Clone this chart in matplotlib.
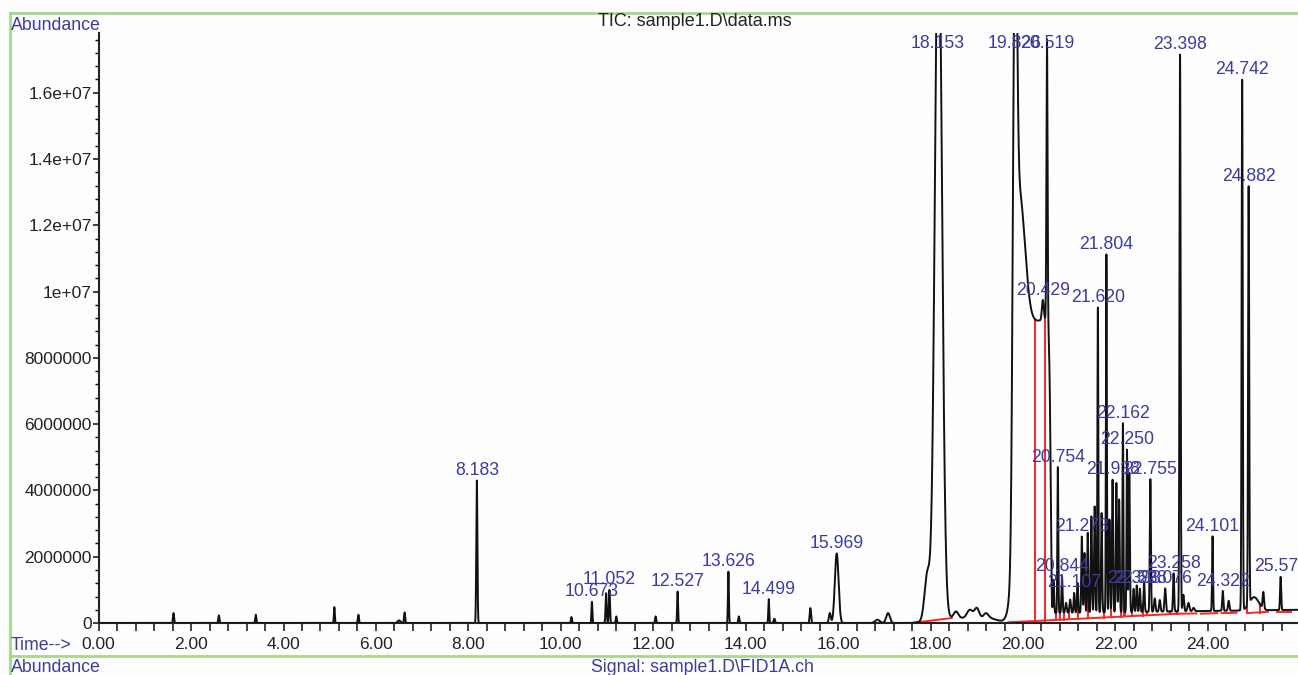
import numpy as np
import matplotlib
matplotlib.use("Agg")
import matplotlib.pyplot as plt
from matplotlib.lines import Line2D

plt.rcParams['font.family'] = ['Liberation Sans', 'DejaVu Sans']

# peaks: retention time (min), height above baseline, sigma (min)
peak_times = [1.62, 2.60, 3.40, 5.10, 5.62, 6.50, 6.62, 8.183,
              10.23, 10.673, 10.98, 11.052, 11.20, 12.05, 12.527, 13.626, 13.85,
              14.499, 14.62, 15.40, 15.82, 15.969, 16.85, 17.08,
              17.93, 18.17, 18.55, 18.85, 19.00, 19.20,
              19.82, 19.92, 20.429, 20.519,
              20.66, 20.754, 20.844, 20.93, 21.02, 21.107, 21.18, 21.273, 21.33, 21.40,
              21.48, 21.55, 21.620, 21.70, 21.804, 21.87, 21.938, 22.02, 22.08, 22.162,
              22.250, 22.30, 22.393, 22.46, 22.528, 22.62, 22.755, 22.85, 22.96, 23.076,
              23.258, 23.398, 23.47, 23.58, 23.69, 24.101, 24.322, 24.45, 24.742, 24.882,
              25.00, 25.20, 25.574]
peak_heights = [3.0e5, 2.3e5, 2.5e5, 4.8e5, 2.5e5, 8e4, 3.2e5, 4.3e6,
                1.8e5, 6.4e5, 9.0e5, 1.0e6, 2.0e5, 2.0e5, 9.5e5, 1.55e6, 2.0e5,
                7.2e5, 1.3e5, 4.5e5, 3.0e5, 2.1e6, 1.0e5, 3.0e5,
                1.4e6, 2.2e7, 2.0e5, 2.5e5, 3.0e5, 1.5e5,
                1.7e7, 4.0e6, 6.0e5, 8.5e6,
                1.0e6, 4.4e6, 1.1e6, 3.0e5, 4.0e5, 6.0e5, 9.0e5, 2.3e6, 1.8e6, 2.4e6,
                2.9e6, 3.2e6, 9.2e6, 3.0e6, 1.08e7, 2.8e6, 4.0e6, 3.9e6, 3.4e6, 5.7e6,
                4.9e6, 4.2e6, 7.0e5, 8.0e5, 7.0e5, 9.0e5, 4.0e6, 4.0e5, 3.5e5, 7.0e5,
                1.15e6, 1.68e7, 5.0e5, 2.5e5, 1.0e5, 2.25e6, 6.0e5, 3.0e5, 1.6e7, 1.26e7,
                4.0e5, 5.0e5, 1.0e6]
peak_widths = [0.012, 0.012, 0.012, 0.010, 0.012, 0.030, 0.012, 0.012,
               0.012, 0.010, 0.012, 0.012, 0.012, 0.012, 0.010, 0.010, 0.012,
               0.010, 0.015, 0.015, 0.020, 0.040, 0.050, 0.040,
               0.060, 0.075, 0.050, 0.060, 0.050, 0.050,
               0.040, 0.120, 0.020, 0.012,
               0.012, 0.010, 0.012, 0.015, 0.015, 0.012, 0.012, 0.012, 0.012, 0.012,
               0.012, 0.012, 0.010, 0.012, 0.010, 0.012, 0.012, 0.012, 0.012, 0.010,
               0.010, 0.012, 0.012, 0.012, 0.012, 0.012, 0.012, 0.015, 0.015, 0.015,
               0.012, 0.012, 0.015, 0.020, 0.020, 0.010, 0.012, 0.015, 0.012, 0.012,
               0.100, 0.015, 0.012]

# overloaded flat region after the 19.826 peak (flat-topped)
plateau_center = 20.22
plateau_height = 8.9e6
plateau_halfwidth = 0.37

baseline_times = [0.0, 17.6, 18.4, 19.3, 19.65, 20.6, 26.0]
baseline_levels = [0.0, 0.0, 1.5e5, 1.5e5, 0.0, 3.0e5, 4.0e5]

peak_labels = ['8.183', '10.673', '11.052', '12.527', '13.626', '14.499', '15.969',
               '18.153', '19.826', '20.519', '20.429', '20.754', '20.844', '21.107',
               '21.273', '21.620', '21.804', '21.938', '22.162', '22.250', '22.393',
               '22.528', '22.755', '23.076', '23.258', '23.398', '24.101', '24.322',
               '24.742', '24.882', '25.574']

# integration marks (red): baseline segments and drop lines
red_seg_start = [7.98, 10.60, 10.95, 12.48, 13.52, 14.33, 15.88, 17.58,
                 19.68, 23.35, 23.85, 24.30, 24.85, 25.50]
red_seg_end = [8.32, 10.78, 11.18, 12.76, 13.80, 14.76, 16.27, 18.46,
               23.35, 23.75, 24.20, 24.62, 25.30, 25.80]
red_seg_v0 = [0, 0, 0, 0, 0, 0, 0, 0, 2e4, 2.8e5, 2.8e5, 3.0e5, 3.0e5, 3.3e5]
red_seg_v1 = [0, 0, 0, 0, 0, 0, 0, 1.5e5, 2.8e5, 2.9e5, 3.0e5, 3.1e5, 3.4e5, 3.3e5]
drop_times = [20.26, 20.47, 20.71, 20.80, 20.89, 20.99, 21.19, 21.40, 21.75, 21.90,
              22.11, 22.19, 22.21, 22.35, 22.60, 22.68, 23.19, 23.33, 24.84, 25.12]

xtick_values = [0, 2, 4, 6, 8, 10, 12, 14, 16, 18, 20, 22, 24]
xtick_labels = ['0.00', '2.00', '4.00', '6.00', '8.00', '10.00', '12.00', '14.00',
                '16.00', '18.00', '20.00', '22.00', '24.00']
ytick_values = [0, 2e6, 4e6, 6e6, 8e6, 1e7, 1.2e7, 1.4e7, 1.6e7]
ytick_labels = ['0', '2000000', '4000000', '6000000', '8000000', '1e+07',
                '1.2e+07', '1.4e+07', '1.6e+07']

blue = '#3c3c9c'
green = '#a6d98c'

# build the signal
time = np.arange(0.0, 26.0, 0.001)
trace = np.interp(time, baseline_times, baseline_levels)
for t0, h, w in zip(peak_times, peak_heights, peak_widths):
    trace += h * np.exp(-0.5 * ((time - t0) / w) ** 2)
trace += plateau_height * np.exp(-0.5 * np.abs((time - plateau_center) / plateau_halfwidth) ** 20)

fig = plt.figure(figsize=(12.98, 6.75), dpi=100)
fig.patch.set_facecolor('#fdfefd')
ax = fig.add_axes([0.076, 0.077, 0.924, 0.874])
ax.set_facecolor('none')

ymax = 1.78e7
xmax = 25.95

# red integration marks
for t0, t1, v0, v1 in zip(red_seg_start, red_seg_end, red_seg_v0, red_seg_v1):
    ax.plot([t0, t1], [v0, v1], color='#ff2222', lw=1.4, zorder=2)
for t in drop_times:
    base = np.interp(t, [19.68, 23.35, 25.8], [2e4, 2.8e5, 3.3e5])
    ax.plot([t, t], [base, np.interp(t, time, trace)], color='#ff2222', lw=1.4, zorder=2)

ax.plot(time, trace, color='#111111', lw=1.4, zorder=3)

# peak labels
for lab in peak_labels:
    t = float(lab)
    near = (time > t - 0.01) & (time < t + 0.01)
    top = min(trace[near].max(), 1.72e7)
    ax.annotate(lab, (t, top), xytext=(0, 1), textcoords='offset points',
                ha='center', va='bottom', fontsize=12.7, color=blue, zorder=4)

ax.set_xlim(0, xmax)
ax.set_ylim(0, ymax)
ax.set_xticks(xtick_values)
ax.set_xticklabels(xtick_labels)
ax.set_xticks(np.arange(0, 26, 0.4), minor=True)
ax.set_yticks(ytick_values)
ax.set_yticklabels(ytick_labels)
ax.set_yticks(np.arange(0, ymax, 4e5), minor=True)
ax.tick_params(axis='x', which='both', direction='out', length=6, width=1.2,
               labelsize=12.5, colors='#222222', pad=4)
ax.tick_params(axis='y', which='major', direction='out', length=4, width=1.2,
               labelsize=12.5, colors='#222222', pad=1)
ax.tick_params(axis='y', which='minor', direction='out', length=3, width=1.0)
for side in ['top', 'right']:
    ax.spines[side].set_visible(False)
for side in ['left', 'bottom']:
    ax.spines[side].set_linewidth(1.5)
    ax.spines[side].set_color('#222222')

# green frame of the report page
fig.add_artist(Line2D([10 / 1298, 1], [1 - 13 / 675, 1 - 13 / 675], color=green, lw=2))
fig.add_artist(Line2D([10 / 1298, 10 / 1298], [0, 1 - 13 / 675], color=green, lw=2))
fig.add_artist(Line2D([10 / 1298, 1], [1 - 656 / 675, 1 - 656 / 675], color=green, lw=2))

fig.text(11 / 1298, 1 - 25 / 675, 'Abundance', color=blue, fontsize=12.8, va='center', ha='left')
fig.text(695 / 1298, 1 - 22 / 675, 'TIC: sample1.D\\data.ms', color='#222222', fontsize=13,
         va='center', ha='center')
fig.text(11 / 1298, 1 - 645 / 675, 'Time-->', color=blue, fontsize=12.8, va='center', ha='left')
fig.text(11 / 1298, 1 - 667 / 675, 'Abundance', color=blue, fontsize=12.8, va='center', ha='left')
fig.text(702 / 1298, 1 - 667 / 675, 'Signal: sample1.D\\FID1A.ch', color=blue, fontsize=12.8,
         va='center', ha='center')

fig.savefig('out.png', dpi=100, facecolor=fig.get_facecolor())
